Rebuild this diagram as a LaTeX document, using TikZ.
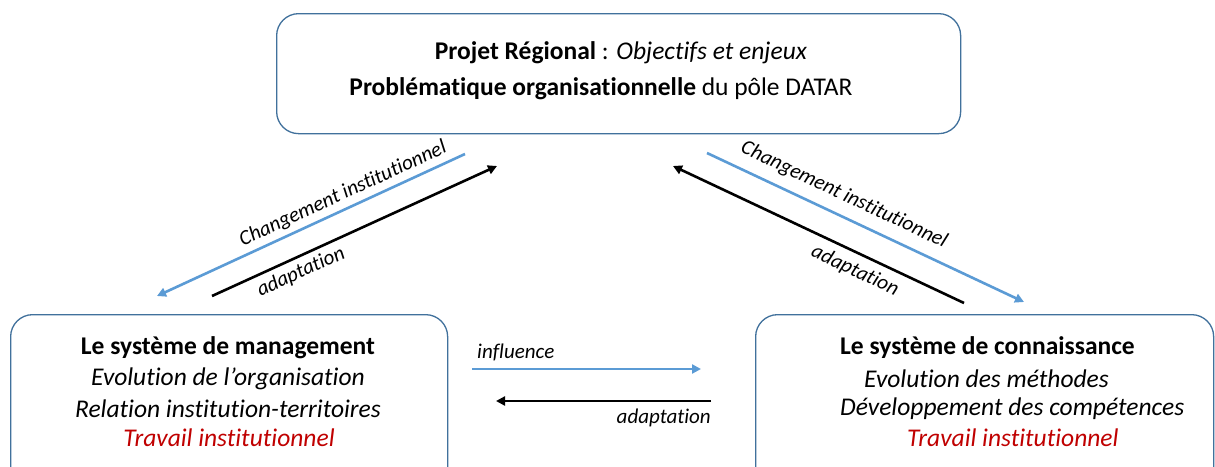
\documentclass[tikz,border=0pt]{standalone}
\usepackage{fontspec}
\setmainfont{Carlito}[Ligatures={NoCommon}]
\usetikzlibrary{arrows.meta}
\definecolor{boxline}{HTML}{41719C}
\definecolor{bluearr}{HTML}{5B9BD5}
\definecolor{redtxt}{HTML}{C00000}
\tikzset{
  panel/.style={draw=boxline, line width=1.3pt, rounded corners=22pt, fill=white},
  txt/.style={inner sep=0pt, font=\fontsize{25.5}{30}\selectfont},
  lbl/.style={inner sep=0pt, font=\fontsize{21}{24}\selectfont\itshape},
  bluea/.style={draw=bluearr, line width=2.6pt, -{Triangle[length=9pt,width=9pt]}},
  blacka/.style={draw=black, line width=2.6pt, -{Triangle[length=9pt,width=9pt]}},
}
\begin{document}
\begin{tikzpicture}[x=1pt,y=-1pt]
\useasboundingbox (0,0) rectangle (1215,466);
\clip (0,0) rectangle (1215,466);
\fill[white] (0,0) rectangle (1215,466);
% boxes
\node[panel, minimum width=684pt, minimum height=120pt, anchor=north west] (top) at (276,13) {};
\node[panel, minimum width=437pt, minimum height=180pt, anchor=north west] (left) at (10,314) {};
\node[panel, minimum width=458pt, minimum height=180pt, anchor=north west] (right) at (755,314) {};
% top texts
\node[txt] (t1) at (621,53) {\textbf{Projet Régional} : \textit{Objectifs et enjeux}};
\node[txt] (t2) at (601,89) {\textbf{Problématique organisationnelle} du pôle DATAR};
% left texts
\node[txt] (l1) at (228,348) {\textbf{Le système de management}};
\node[txt] (l2) at (228,379) {\textit{Evolution de l’organisation}};
\node[txt] (l3) at (228,409) {\textit{Relation institution-territoires}};
\node[txt, text=redtxt] (l4) at (229,438) {\textit{Travail institutionnel}};
% right texts
\node[txt, anchor=west] (r1) at (840,348) {\textbf{Le système de connaissance}};
\node[txt, anchor=west] (r2) at (864,379) {\textit{Evolution des méthodes}};
\node[txt, anchor=west] (r3) at (840,409) {\textit{Développement des compétences}};
\node[txt, anchor=west, text=redtxt] (r4) at (907,438) {\textit{Travail institutionnel}};
% arrow end points
\coordinate (a1s) at (465,154);
\coordinate (a1e) at (157,296);
\coordinate (a2s) at (212,296);
\coordinate (a2e) at (497,166);
\coordinate (a3s) at (707,153);
\coordinate (a3e) at (1024,302);
\coordinate (a4s) at (964,303);
\coordinate (a4e) at (673,166);
\coordinate (a5s) at (472,369);
\coordinate (a5e) at (701,369);
\coordinate (a6s) at (711,401);
\coordinate (a6e) at (496,401);
\draw[bluea] (a1s) -- (a1e);
\draw[blacka] (a2s) -- (a2e);
\draw[bluea] (a3s) -- (a3e);
\draw[blacka] (a4s) -- (a4e);
\draw[bluea] (a5s) -- (a5e);
\draw[blacka] (a6s) -- (a6e);
% labels
\node[lbl, rotate=24.7] (c1) at (343,194) {Changement institutionnel};
\node[lbl, rotate=24.5] (d1) at (301,272) {adaptation};
\node[lbl, rotate=-25.2] (c2) at (844,195) {Changement institutionnel};
\node[lbl, rotate=-25.3] (d2) at (855,271) {adaptation};
\node[lbl, anchor=west] (inf) at (477,352) {influence};
\node[lbl, anchor=east] (d3) at (711,418) {adaptation};
\end{tikzpicture}
\end{document}
